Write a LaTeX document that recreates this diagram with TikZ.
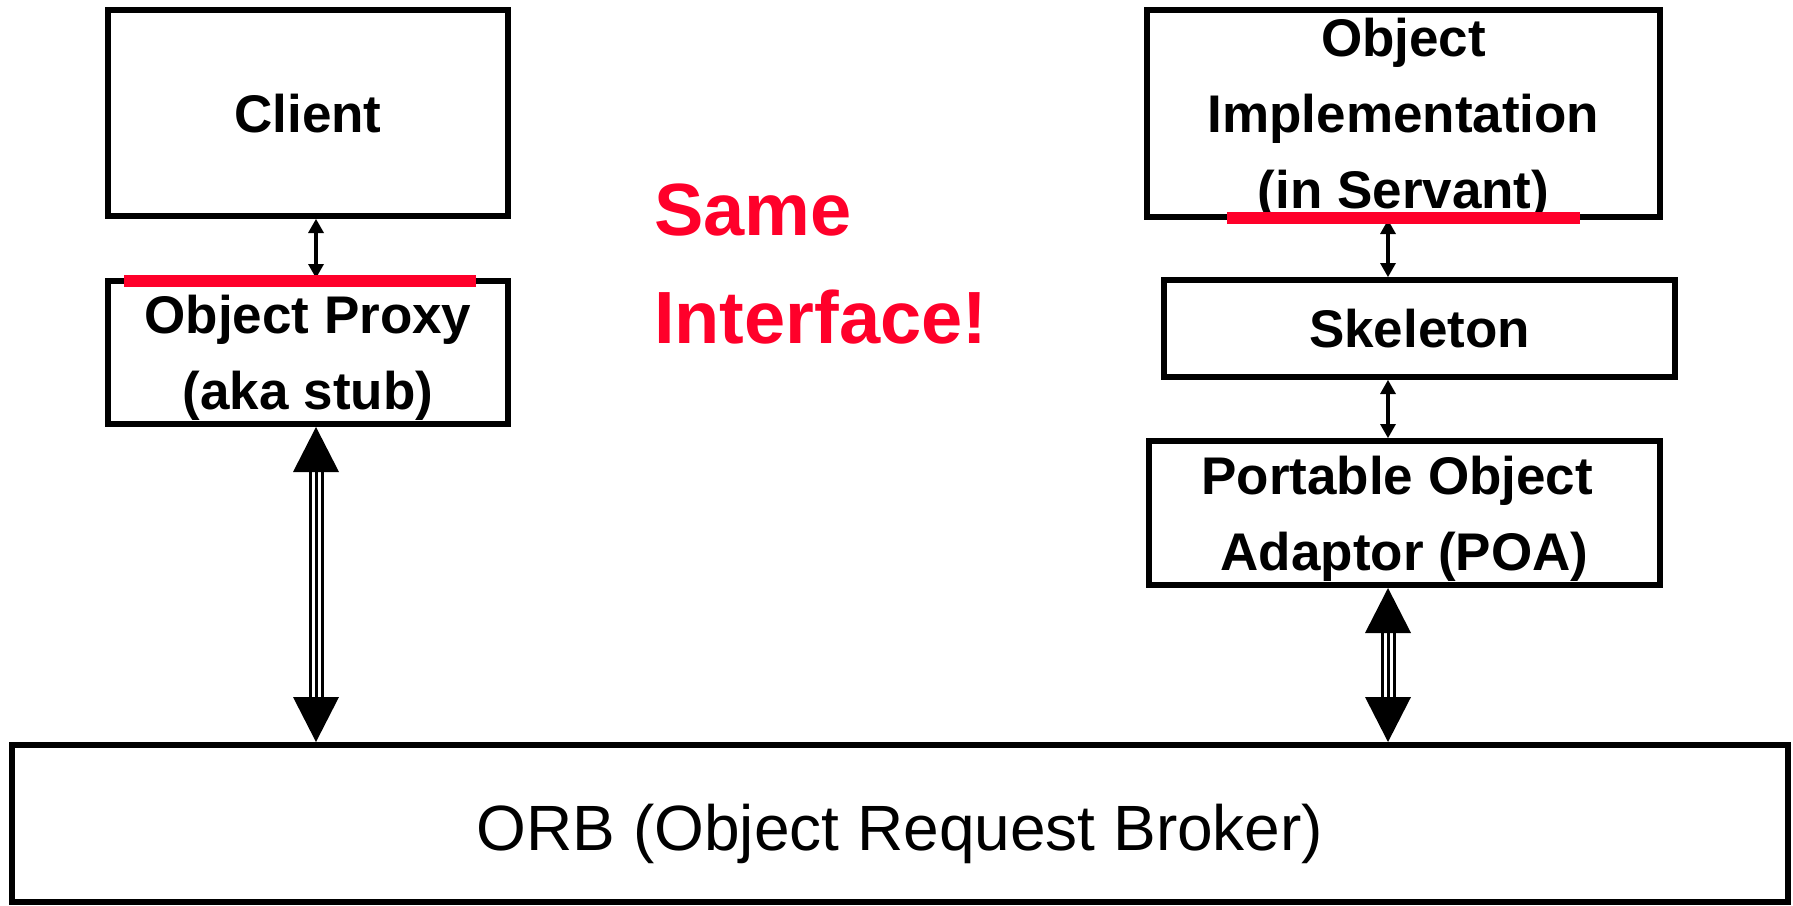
\documentclass[tikz,border=0pt]{standalone}
\usepackage{fontspec}
\setmainfont{Liberation Sans}
\usetikzlibrary{arrows.meta}
\definecolor{alertred}{RGB}{255,0,42}
% centred lines whose node baseline is the first line
\newcommand\mlines[1]{\vtop{\halign{\hfil##\hfil\cr#1\crcr}}}

\begin{document}
\begin{tikzpicture}[x=1pt,y=-1pt,
  box/.style={draw, line width=6pt, rectangle, inner sep=0pt,
    font=\bfseries\fontsize{53}{76}\selectfont, text height=38pt, text depth=0pt},
  twoline/.style={text depth=76pt},
  threeline/.style={text depth=152pt},
  note/.style={text=alertred, inner sep=0pt, anchor=base west,
    font=\bfseries\fontsize{74}{90}\selectfont},
  smallarrow/.style={line width=4.5pt,
    {Triangle[width=16pt,length=14pt,line width=0pt]}-{Triangle[width=16pt,length=14pt,line width=0pt]}},
  bigshaft/.style={line width=3pt, double distance=9pt,
    shorten <=44pt, shorten >=44pt},
  bigcore/.style={line width=3pt,
    {Triangle[width=46pt,length=45pt,line width=0pt]}-{Triangle[width=46pt,length=45pt,line width=0pt]}},
  redbar/.style={draw=alertred, line width=12pt}
]
\useasboundingbox (0,0) rectangle (1793,905);

% client side
\node[box, minimum width=400pt, minimum height=206pt] (client) at (308,113) {Client};
\node[box, twoline, minimum width=400pt, minimum height=143pt] (proxy) at (308,352.5)
  {\mlines{Object Proxy\cr(aka stub)}};

% server side
\node[box, threeline, minimum width=513pt, minimum height=207pt] (impl) at (1403.5,113.5)
  {\mlines{Object\cr Implementation\cr(in Servant)}};
\node[box, minimum width=511pt, minimum height=97pt] (skel) at (1419.5,328.5) {Skeleton};
\node[box, twoline, minimum width=511pt, minimum height=144pt] (poa) at (1404.5,513)
  {\mlines{Portable Object\ \cr Adaptor (POA)}};

% broker
\node[box, font=\fontsize{64}{76}\selectfont, text height=54pt,
  minimum width=1776pt, minimum height=157pt] (orb) at (900,823.5)
  {ORB (Object Request Broker)};

% remark
\node[note] (same) at (654,235) {Same};
\node[note] (iface) at (654,343) {Interface!};

% connector columns
\coordinate (lx) at (316,0);
\coordinate (rx) at (1388,0);

\draw[smallarrow] (client.south -| lx) -- (proxy.north -| lx);
\draw[smallarrow] (impl.south -| rx) -- (skel.north -| rx);
\draw[smallarrow] (skel.south -| rx) -- (poa.north -| rx);

\draw[bigshaft] (proxy.south -| lx) -- (orb.north -| lx);
\draw[bigcore]  (proxy.south -| lx) -- (orb.north -| lx);
\draw[bigshaft] (poa.south -| rx) -- (orb.north -| rx);
\draw[bigcore]  (poa.south -| rx) -- (orb.north -| rx);

% interface markers
\draw[redbar] (124,281) -- (476,281);
\draw[redbar] (1227,217.5) -- (1580,217.5);
\end{tikzpicture}
\end{document}
